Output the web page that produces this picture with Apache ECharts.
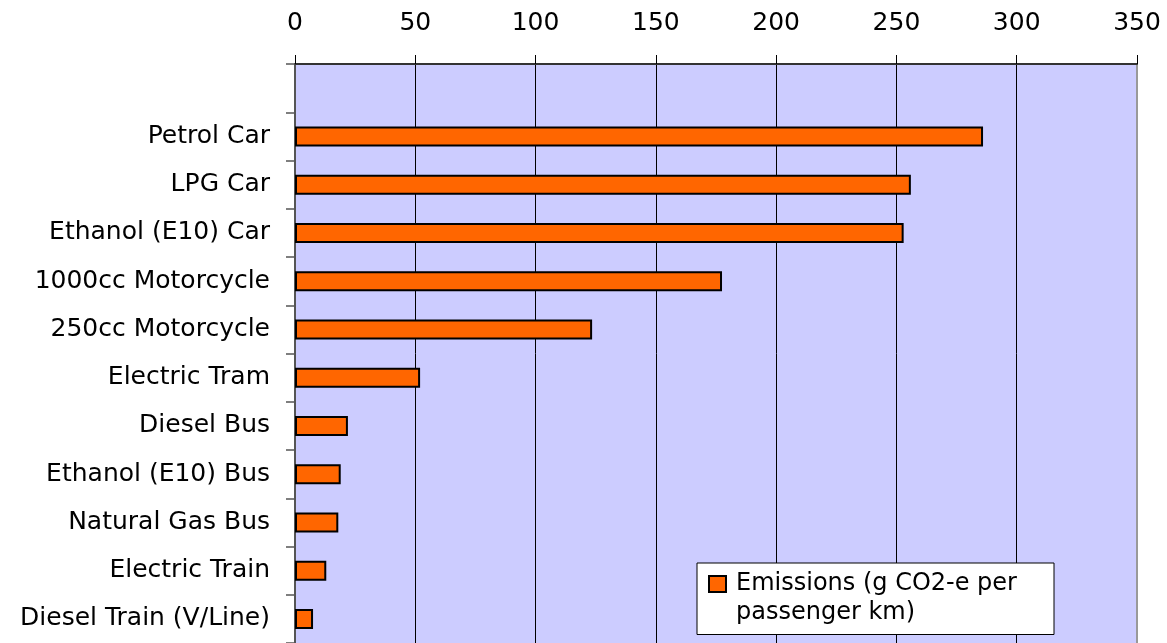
<!DOCTYPE html>
<html>
<head>
<meta charset="utf-8">
<script src="https://cdn.jsdelivr.net/npm/echarts@6/dist/echarts.min.js"></script>
<style>
html,body{margin:0;padding:0;background:#fff;}
#chart{width:1167px;height:643px;}
</style>
</head>
<body>
<div id="chart"></div>
<script>
var categories = ['Petrol Car','LPG Car','Ethanol (E10) Car','1000cc Motorcycle','250cc Motorcycle','Electric Tram','Diesel Bus','Ethanol (E10) Bus','Natural Gas Bus','Electric Train','Diesel Train (V/Line)'];
var emissions = [286, 256, 253, 177.5, 123.5, 52, 22, 19, 18, 13, 7.5];
var seriesName = 'Emissions (g CO2-e per passenger km)';
var xTicks = [0, 50, 100, 150, 200, 250, 300, 350];

var FONT = 'DejaVu Sans';
var yData = [''].concat(categories);
var barData = ['-'].concat(emissions);

var chart = echarts.init(document.getElementById('chart'), null, {renderer:'canvas'});
chart.setOption({
  animation:false,
  backgroundColor:'#ffffff',
  grid:{left:295, right:30, top:64, bottom:-2.5, show:true, backgroundColor:'#CCCCFF', borderWidth:0},
  xAxis:{
    type:'value', position:'top',
    min:xTicks[0], max:xTicks[xTicks.length-1], interval:xTicks[1]-xTicks[0],
    axisLine:{show:true, lineStyle:{color:'#333333', width:2}},
    axisTick:{show:true, length:9, inside:false, lineStyle:{color:'#000', width:1}},
    axisLabel:{fontFamily:FONT, fontSize:25, color:'#000', margin:28},
    splitLine:{show:true, lineStyle:{color:'#000', width:1}}
  },
  yAxis:[{
    type:'category', inverse:true, data:yData, position:'left',
    axisLine:{show:true, lineStyle:{color:'#555555', width:2}},
    axisTick:{show:true, length:9, inside:false, lineStyle:{color:'#555555', width:1.5}},
    axisLabel:{fontFamily:FONT, fontSize:25, color:'#000', margin:25, interval:0},
    splitLine:{show:false}
  },{
    type:'category', inverse:true, data:yData, position:'right',
    axisLine:{show:true, lineStyle:{color:'#999999', width:2}},
    axisTick:{show:false}, axisLabel:{show:false}, splitLine:{show:false}
  }],
  legend:{
    show:true, left:697, top:563, orient:'vertical',
    padding:[6.5,7,7,11],
    backgroundColor:'#ffffff', borderColor:'#000', borderWidth:1,
    itemWidth:22, itemHeight:45,
    icon:'path://M0,0H17V16H0ZM22,45',
    itemStyle:{color:'#FF6600', borderColor:'#000', borderWidth:2},
    formatter:function(n){ return n.replace(' passenger', '\npassenger'); },
    textStyle:{fontFamily:FONT, fontSize:24, color:'#000', lineHeight:29, width:311},
    data:[seriesName]
  },
  series:[{
    name:seriesName, type:'bar', data:barData, barWidth:20,
    itemStyle:{color:'#FF6600', borderColor:'#000', borderWidth:2}
  }]
});
</script>
</body>
</html>
